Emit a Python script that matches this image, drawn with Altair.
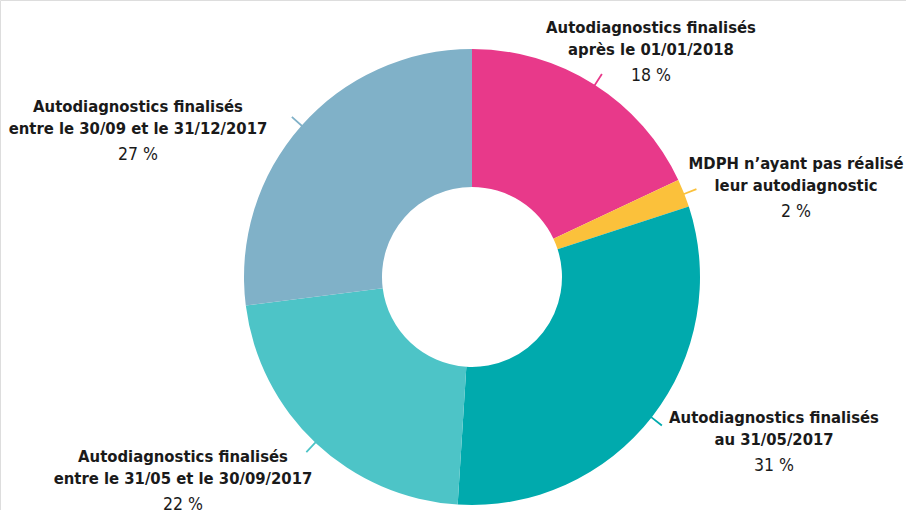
import math
import altair as alt
import pandas as pd

# ---- data ----
categories = [
    "Autodiagnostics finalisés\naprès le 01/01/2018",
    "MDPH n\u2019ayant pas réalisé\nleur autodiagnostic",
    "Autodiagnostics finalisés\nau 31/05/2017",
    "Autodiagnostics finalisés\nentre le 31/05 et le 30/09/2017",
    "Autodiagnostics finalisés\nentre le 30/09 et le 31/12/2017",
]
values = [18, 2, 31, 22, 27]
pct_labels = ["18 %", "2 %", "31 %", "22 %", "27 %"]

# ---- style ----
colors = ["#E8398A", "#FBC13B", "#00AAAD", "#4DC4C7", "#80B1C8"]
label_x = [651, 796, 774, 183, 138]      # label centre (px)
label_y = [33, 169, 423, 462, 112]       # first-line baseline (px)
CX, CY = 472, 277
R_OUT, R_IN = 228, 90
FONT = "DejaVu Sans Condensed, sans-serif"
FS = 16.5
LH = 21.5

start, end = [], []
acc = 0
for v in values:
    start.append(acc)
    acc += v
    end.append(acc)

df = pd.DataFrame({
    "cat": categories,
    "value": values,
    "start": start,
    "end": end,
    "pct": pct_labels,
    "lx": label_x,
    "ly": label_y,
})
df["mid"] = (df["start"] + df["end"]) / 2
df["mid2"] = df["mid"] + 0.12

theta_scale = alt.Scale(domain=[0, 100], range=[0, 2 * math.pi])
color_scale = alt.Scale(domain=categories, range=colors)

base = alt.Chart(df)

arcs = base.mark_arc(radius=R_OUT, radius2=R_IN).encode(
    theta=alt.Theta("start:Q", scale=theta_scale),
    theta2="end:Q",
    color=alt.Color("cat:N", scale=color_scale, legend=None),
    x=alt.value(CX),
    y=alt.value(CY),
)

leaders = base.mark_arc(radius=R_OUT - 1, radius2=R_OUT + 13).encode(
    theta=alt.Theta("mid:Q", scale=theta_scale),
    theta2="mid2:Q",
    color=alt.Color("cat:N", scale=color_scale, legend=None),
    x=alt.value(CX),
    y=alt.value(CY),
)

titles = base.mark_text(
    font=FONT, fontSize=FS, fontWeight="bold", color="#1a1a1a",
    align="center", baseline="alphabetic", lineBreak="\n", lineHeight=LH,
).encode(
    x=alt.X("lx:Q", scale=None),
    y=alt.Y("ly:Q", scale=None),
    text="cat:N",
)

pcts = base.mark_text(
    font=FONT, fontSize=17.5, color="#1a1a1a",
    align="center", baseline="alphabetic", dy=48,
).encode(
    x=alt.X("lx:Q", scale=None),
    y=alt.Y("ly:Q", scale=None),
    text="pct:N",
)

chart = alt.layer(arcs, leaders, titles, pcts).properties(
    width=906, height=510, autosize=alt.AutoSizeParams(type="none"), padding=0,
).configure_view(stroke=None).configure(background="white")

chart.save("out.html", embed_options={"renderer": "svg", "actions": False})
